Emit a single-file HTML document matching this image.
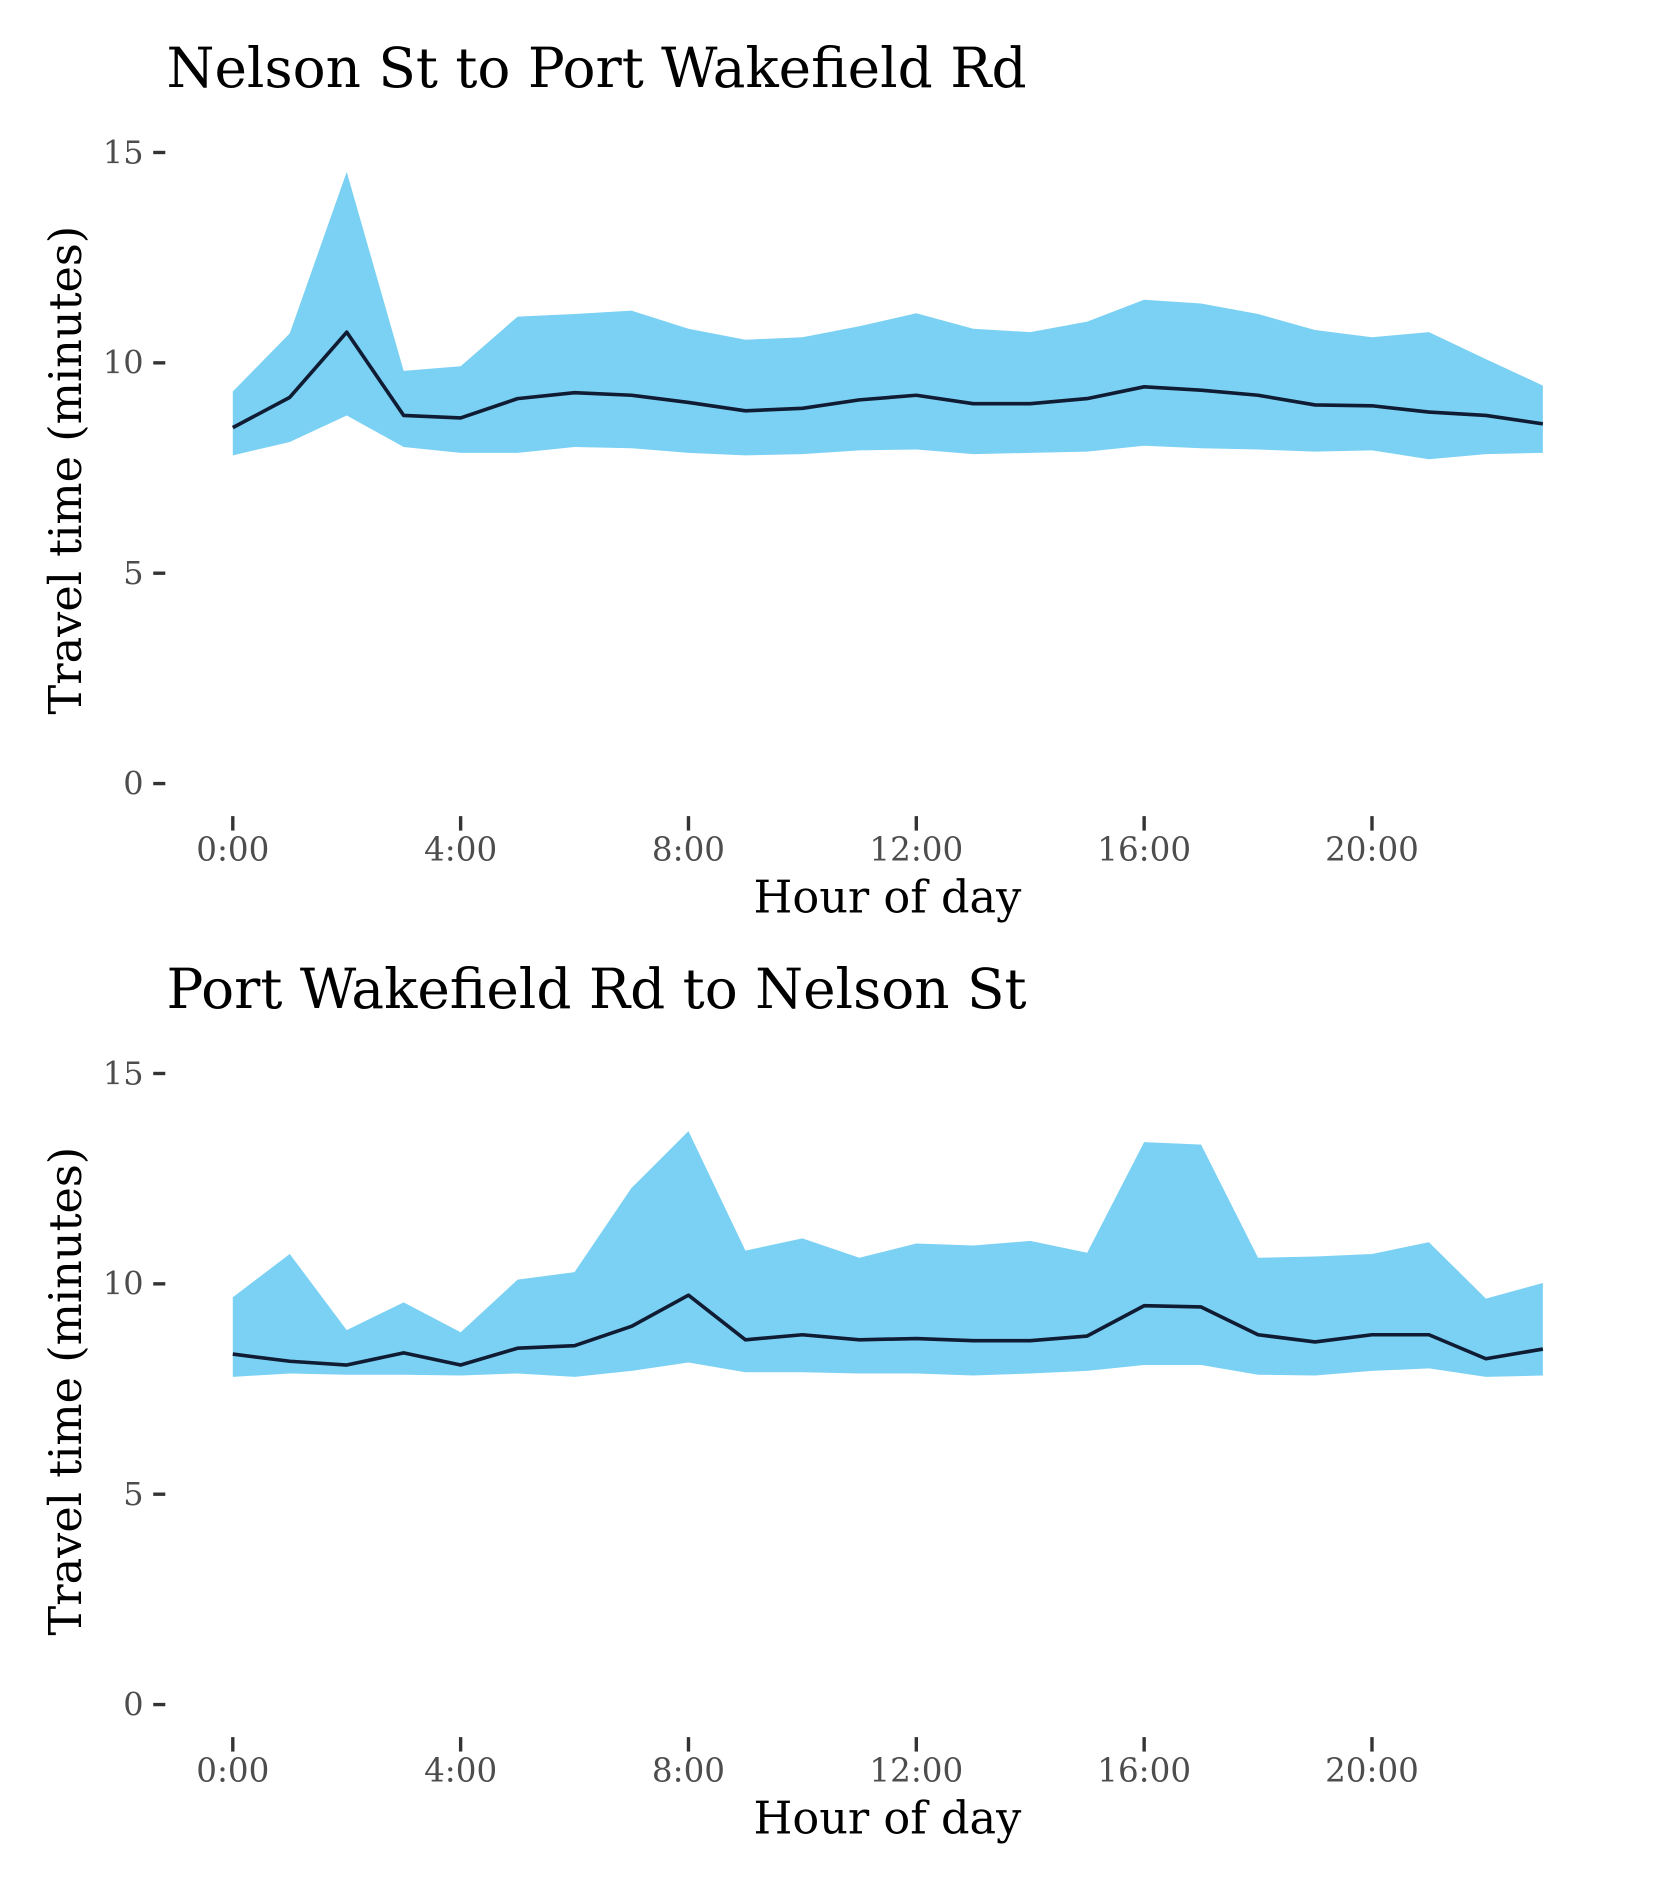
<!DOCTYPE html>
<html><head><meta charset="utf-8"><style>body{margin:0;background:#fff}svg{display:block}</style></head>
<body>
<svg id="chart" width="1653" height="1889" viewBox="0 0 1371 1567" xmlns="http://www.w3.org/2000/svg" font-family="'DejaVu Serif','Liberation Serif',serif"></svg>
<script>
const hours = [0,1,2,3,4,5,6,7,8,9,10,11,12,13,14,15,16,17,18,19,20,21,22,23];
const xTickHours = [0,4,8,12,16,20];
const xTickLabels = ["0:00","4:00","8:00","12:00","16:00","20:00"];
const yTicks = [0,5,10,15];
const title1 = "Nelson St to Port Wakefield Rd";
const mean1 = [8.46,9.18,10.73,8.75,8.69,9.15,9.29,9.23,9.06,8.86,8.92,9.12,9.23,9.03,9.03,9.15,9.43,9.35,9.23,9.0,8.98,8.83,8.75,8.55];
const upper1 = [9.32,10.7,14.54,9.81,9.92,11.1,11.16,11.24,10.81,10.55,10.61,10.87,11.18,10.81,10.73,10.98,11.5,11.41,11.16,10.78,10.61,10.73,10.09,9.46];
const lower1 = [7.8,8.12,8.75,8.0,7.86,7.86,8.0,7.97,7.86,7.8,7.83,7.92,7.94,7.83,7.86,7.89,8.03,7.97,7.94,7.89,7.92,7.71,7.83,7.86];
const title2 = "Port Wakefield Rd to Nelson St";
const mean2 = [8.33,8.16,8.07,8.36,8.07,8.47,8.53,8.99,9.73,8.67,8.79,8.67,8.70,8.65,8.65,8.76,9.48,9.45,8.79,8.62,8.79,8.79,8.22,8.45];
const upper2 = [9.68,10.71,8.9,9.56,8.85,10.1,10.28,12.28,13.63,10.79,11.08,10.62,10.96,10.91,11.02,10.74,13.37,13.31,10.62,10.65,10.71,10.99,9.65,10.02];
const lower2 = [7.79,7.87,7.84,7.84,7.82,7.87,7.79,7.93,8.13,7.9,7.9,7.87,7.87,7.82,7.87,7.93,8.07,8.07,7.84,7.82,7.93,7.99,7.79,7.82];

const NS="http://www.w3.org/2000/svg";
const svg=document.getElementById('chart');
function mk(tag,attrs,parent){const e=document.createElementNS(NS,tag);for(const k in attrs)e.setAttribute(k,attrs[k]);(parent||svg).appendChild(e);return e;}
const xScale=h=>193+h*47.25;

function panel(idx,top,title,mean,upper,lower){
  const y0=top+523, yScale=v=>y0-v*34.9;
  const g=mk('g',{});
  
  
  const t=mk('text',{x:138,y:top-55,'font-size':45.5,fill:'#000'},g);t.textContent=title;
  
  
  let d='';
  hours.forEach((h,i)=>{d+=(i?'L':'M')+xScale(h)+','+yScale(upper[i]);});
  for(let i=hours.length-1;i>=0;i--)d+='L'+xScale(hours[i])+','+yScale(lower[i]);
  const band=mk('path',{d:d+'Z',fill:'#7bd1f3'},g);
  
  
  let ld='';hours.forEach((h,i)=>{ld+=(i?'L':'M')+xScale(h)+','+yScale(mean[i]);});
  const line=mk('path',{d:ld,fill:'none',stroke:'#0f1c33','stroke-width':3,'stroke-linejoin':'round'},g);
  
  
  yTicks.forEach(v=>{
    const y=yScale(v);
    mk('line',{x1:127,x2:137,y1:y,y2:y,stroke:'#333','stroke-width':2.8},g);
    const tl=mk('text',{x:119,y:y+9,'font-size':26.5,fill:'#4d4d4d','text-anchor':'end'},g);tl.textContent=v;
    
    
  });
  xTickHours.forEach((h,i)=>{
    const x=xScale(h);
    mk('line',{x1:x,x2:x,y1:y0+27,y2:y0+39,stroke:'#333','stroke-width':2.8},g);
    const tl=mk('text',{x:x,y:y0+64,'font-size':27,fill:'#4d4d4d','text-anchor':'middle'},g);tl.textContent=xTickLabels[i];
    
    
  });
  const xl=mk('text',{x:736,y:y0+107,'font-size':37,fill:'#000','text-anchor':'middle'},g);xl.textContent='Hour of day';
  
  
  const cy=top+263;
  const yl=mk('text',{x:0,y:0,'font-size':37,fill:'#000','text-anchor':'middle',transform:'translate(67,'+cy+') rotate(-90)'},g);yl.textContent='Travel time (minutes)';
  
  
}
panel(1,127,title1,mean1,upper1,lower1);
panel(2,891,title2,mean2,upper2,lower2);
</script>
</body></html>
